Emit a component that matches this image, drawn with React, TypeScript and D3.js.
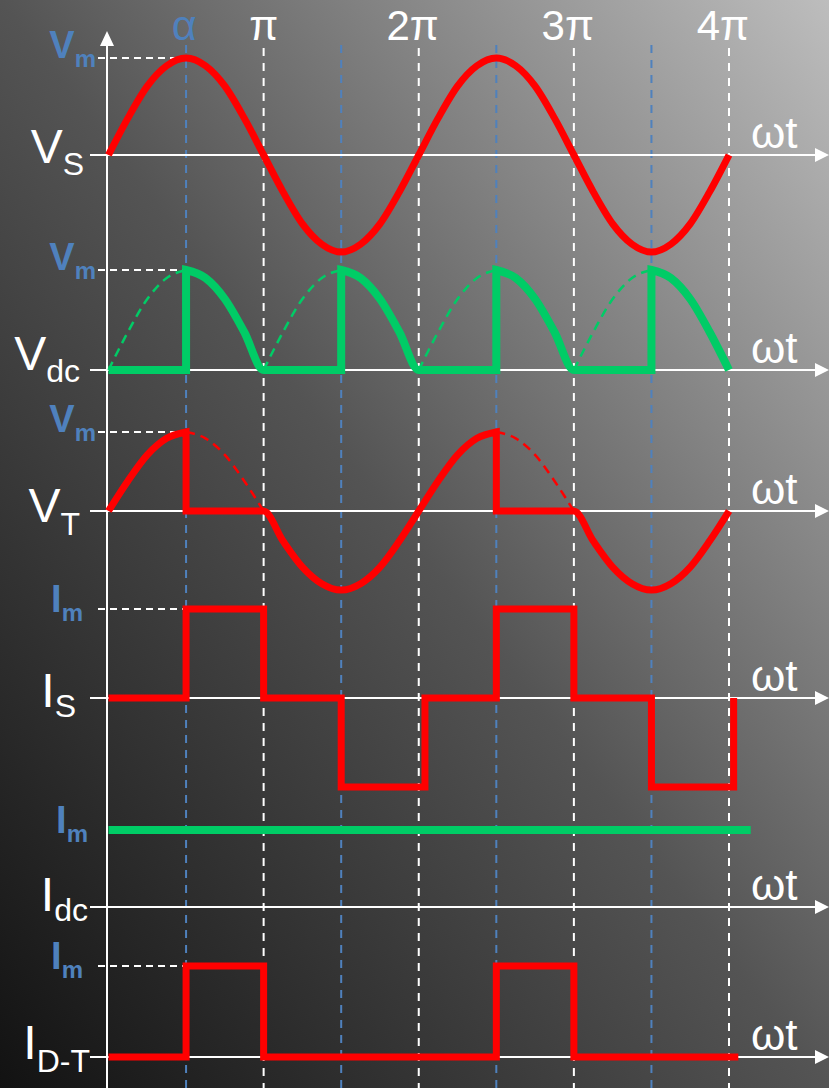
import { useEffect, useRef } from "react";
import * as d3 from "d3";

type Pt = [number, number]; // [ωt in units of π, value relative to the peak]

const WIDTH = 829;
const HEIGHT = 1088;

// Top axis marks (ωt in units of π)
const piTickValues = [1, 2, 3, 4];
const piTickLabels = ["π", "2π", "3π", "4π"];
const alphaLabel = "α";
const firingAngles = [0.5, 1.5, 2.5, 3.5];

// Panel labels
const panelNames = ["V", "V", "V", "I", "I", "I"];
const panelSubs = ["S", "dc", "T", "S", "dc", "D-T"];
const peakNames = ["V", "V", "V", "I", "I", "I"];
const peakSub = "m";
const axisLabel = "ωt";

const vsWave: Pt[] = [
  [0, 0], [0.125, 0.38], [0.25, 0.71], [0.375, 0.92], [0.5, 1], [0.625, 0.92], [0.75, 0.71], [0.875, 0.38],
  [1, 0], [1.125, -0.38], [1.25, -0.71], [1.375, -0.92], [1.5, -1], [1.625, -0.92], [1.75, -0.71], [1.875, -0.38],
  [2, 0], [2.125, 0.38], [2.25, 0.71], [2.375, 0.92], [2.5, 1], [2.625, 0.92], [2.75, 0.71], [2.875, 0.38],
  [3, 0], [3.125, -0.38], [3.25, -0.71], [3.375, -0.92], [3.5, -1], [3.625, -0.92], [3.75, -0.71], [3.875, -0.38],
  [4, 0],
];

// Output voltage
const vdcWave: Pt[] = [
  [0, 0], [0.5, 0], [0.5, 1], [0.625, 0.92], [0.75, 0.71], [0.875, 0.38], [1, 0],
  [1.5, 0], [1.5, 1], [1.625, 0.92], [1.75, 0.71], [1.875, 0.38], [2, 0],
  [2.5, 0], [2.5, 1], [2.625, 0.92], [2.75, 0.71], [2.875, 0.38], [3, 0],
  [3.5, 0], [3.5, 1], [3.625, 0.92], [3.75, 0.71], [3.875, 0.38], [4, 0],
];
const vdcGhost: Pt[][] = [
  [[0, 0], [0.125, 0.38], [0.25, 0.71], [0.375, 0.92], [0.5, 1]],
  [[1, 0], [1.125, 0.38], [1.25, 0.71], [1.375, 0.92], [1.5, 1]],
  [[2, 0], [2.125, 0.38], [2.25, 0.71], [2.375, 0.92], [2.5, 1]],
  [[3, 0], [3.125, 0.38], [3.25, 0.71], [3.375, 0.92], [3.5, 1]],
];

// Thyristor voltage
const vtWave: Pt[] = [
  [0, 0], [0.125, 0.38], [0.25, 0.71], [0.375, 0.92], [0.5, 1], [0.5, 0], [1, 0],
  [1.125, -0.38], [1.25, -0.71], [1.375, -0.92], [1.5, -1], [1.625, -0.92], [1.75, -0.71], [1.875, -0.38],
  [2, 0], [2.125, 0.38], [2.25, 0.71], [2.375, 0.92], [2.5, 1], [2.5, 0], [3, 0],
  [3.125, -0.38], [3.25, -0.71], [3.375, -0.92], [3.5, -1], [3.625, -0.92], [3.75, -0.71], [3.875, -0.38],
  [4, 0],
];
const vtGhost: Pt[][] = [
  [[0.5, 1], [0.625, 0.92], [0.75, 0.71], [0.875, 0.38], [1, 0]],
  [[2.5, 1], [2.625, 0.92], [2.75, 0.71], [2.875, 0.38], [3, 0]],
];

// Source current
const isWave: Pt[] = [
  [0, 0], [0.5, 0], [0.5, 1], [1, 1], [1, 0], [1.5, 0], [1.5, -1], [2.04, -1], [2.04, 0],
  [2.5, 0], [2.5, 1], [3, 1], [3, 0], [3.5, 0], [3.5, -1], [4.03, -1], [4.03, 0],
];

// Load current
const idcWave: Pt[] = [[0, 1], [4.14, 1]];

// Freewheeling diode / thyristor current
const idtWave: Pt[] = [
  [0, 0], [0.5, 0], [0.5, 1], [1, 1], [1, 0], [2.5, 0], [2.5, 1], [3, 1], [3, 0], [4.06, 0],
];

const RED = "#ff0000";
const GREEN = "#00cc66";
const BLUE = "#4f81bd";
const FONT = "'Liberation Sans', Arial, sans-serif";

// layout
const panelAxisY = [155, 370, 511, 698, 907, 1057];
const panelPeakY = [58, 270, 432, 609, 830, 966];
const labelEndX = [84, 80, 80, 76, 88, 90];
const labelDy = [8, 0, 11, 9, 4, 2];
const subDy = [12, 12, 13, 10, 10, 13];
const peakEndX = [96, 96, 96, 83, 88, 83];

function buildPath(pts: Pt[], x: (v: number) => number, y: (v: number) => number) {
  // split at vertical jumps so the smooth parts can use a monotone curve
  const runs: Pt[][] = [];
  let cur: Pt[] = [];
  pts.forEach((p, i) => {
    if (i > 0 && Math.abs(p[0] - pts[i - 1][0]) < 1e-9) {
      runs.push(cur);
      cur = [];
    }
    cur.push(p);
  });
  runs.push(cur);
  const line = d3
    .line<Pt>()
    .x((d) => x(d[0]))
    .y((d) => y(d[1]))
    .curve(d3.curveMonotoneX);
  return runs
    .map((r, i) => {
      const d = r.length > 1 ? line(r) || "" : `M${x(r[0][0])},${y(r[0][1])}`;
      return i === 0 ? d : "L" + d.slice(1);
    })
    .join("");
}

export default function App() {
  const svgRef = useRef<SVGSVGElement>(null);

  useEffect(() => {
    if (!svgRef.current) return;
    const svg = d3.select(svgRef.current);
    svg.selectAll("*").remove();

    const x = d3.scaleLinear().domain([0, 4]).range([108.5, 729]);

    const grad = svg
      .append("defs")
      .append("linearGradient")
      .attr("id", "bg")
      .attr("x1", 0)
      .attr("y1", 1)
      .attr("x2", 1)
      .attr("y2", 0);
    grad.append("stop").attr("offset", 0).attr("stop-color", "#121212");
    grad.append("stop").attr("offset", 0.5).attr("stop-color", "#545454");
    grad.append("stop").attr("offset", 1).attr("stop-color", "#bdbdbd");

    svg.append("rect").attr("width", WIDTH).attr("height", HEIGHT).attr("fill", "url(#bg)");

    // Vertical guide lines
    piTickValues.forEach((v) => {
      svg.append("line")
        .attr("x1", x(v)).attr("x2", x(v))
        .attr("y1", 48).attr("y2", HEIGHT)
        .attr("stroke", "#fff").attr("stroke-width", 2)
        .attr("stroke-dasharray", "8,7");
    });
    firingAngles.forEach((v) => {
      svg.append("line")
        .attr("x1", x(v)).attr("x2", x(v))
        .attr("y1", 45).attr("y2", HEIGHT)
        .attr("stroke", BLUE).attr("stroke-width", 2)
        .attr("stroke-dasharray", "8,7");
    });

    // Vertical axis
    const x0 = 107;
    svg.append("line")
      .attr("x1", x0).attr("x2", x0).attr("y1", 44).attr("y2", HEIGHT)
      .attr("stroke", "#fff").attr("stroke-width", 2);
    svg.append("path")
      .attr("d", `M${x0},31L${x0 - 7},46L${x0 + 7},46Z`)
      .attr("fill", "#fff");

    // Top labels
    svg.append("text")
      .attr("x", x(firingAngles[0]) - 2).attr("y", 40)
      .attr("text-anchor", "middle")
      .attr("font-family", FONT).attr("font-size", 43)
      .attr("fill", BLUE)
      .text(alphaLabel);
    piTickValues.forEach((v, i) => {
      svg.append("text")
        .attr("x", i === 0 ? x(v) : x(v) + 20).attr("y", 40)
        .attr("text-anchor", i === 0 ? "middle" : "end")
        .attr("font-family", FONT).attr("font-size", 42)
        .attr("fill", "#fff")
        .text(piTickLabels[i]);
    });

    const solids = [vsWave, vdcWave, vtWave, isWave, idcWave, idtWave];
    const ghosts: (Pt[][] | null)[] = [null, vdcGhost, vtGhost, null, null, null];
    const colors = [RED, GREEN, RED, RED, GREEN, RED];
    const widths = [7, 8, 7, 7, 8, 7];

    panelAxisY.forEach((ay, i) => {
      const y = d3.scaleLinear().domain([0, 1]).range([ay, panelPeakY[i]]);
      const g = svg.append("g");

      // horizontal axis with arrow
      g.append("line")
        .attr("x1", 90).attr("x2", 818).attr("y1", ay).attr("y2", ay)
        .attr("stroke", "#fff").attr("stroke-width", 2);
      g.append("path")
        .attr("d", `M${WIDTH},${ay}L${WIDTH - 14},${ay - 7}L${WIDTH - 14},${ay + 7}Z`)
        .attr("fill", "#fff");
      g.append("text")
        .attr("x", 751).attr("y", ay - 7)
        .attr("font-family", FONT).attr("font-size", 44)
        .attr("fill", "#fff")
        .text(axisLabel);

      // peak reference
      if (i !== 4) {
        g.append("line")
          .attr("x1", 98).attr("x2", x(firingAngles[0]))
          .attr("y1", y(1)).attr("y2", y(1))
          .attr("stroke", "#fff").attr("stroke-width", 2)
          .attr("stroke-dasharray", "7,5");
      }
      const pk = g.append("text")
        .attr("x", peakEndX[i]).attr("y", y(1) + (panelNames[i] === "V" ? 0 : 3))
        .attr("text-anchor", "end")
        .attr("font-family", FONT).attr("font-weight", "bold")
        .attr("fill", BLUE);
      pk.append("tspan").attr("font-size", 38).text(peakNames[i]);
      pk.append("tspan").attr("font-size", 24).attr("dy", 9).text(peakSub);

      // panel label
      const lb = g.append("text")
        .attr("x", labelEndX[i]).attr("y", ay + labelDy[i])
        .attr("text-anchor", "end")
        .attr("font-family", FONT)
        .attr("fill", "#fff");
      lb.append("tspan").attr("font-size", 48).text(panelNames[i]);
      lb.append("tspan").attr("font-size", 32).attr("dy", subDy[i]).text(panelSubs[i]);

      // dashed ghost curves
      const gh = ghosts[i];
      if (gh) {
        gh.forEach((seg) => {
          g.append("path")
            .attr("d", buildPath(seg, x, y))
            .attr("fill", "none")
            .attr("stroke", colors[i]).attr("stroke-width", 2.5)
            .attr("stroke-dasharray", "9,6");
        });
      }

      // waveform
      g.append("path")
        .attr("d", buildPath(solids[i], x, y))
        .attr("fill", "none")
        .attr("stroke", colors[i])
        .attr("stroke-width", widths[i])
        .attr("stroke-linejoin", "miter");
    });
  }, []);

  return (
    <svg
      ref={svgRef}
      width={WIDTH}
      height={HEIGHT}
      style={{ position: "absolute", left: 0, top: 0, display: "block" }}
    />
  );
}
